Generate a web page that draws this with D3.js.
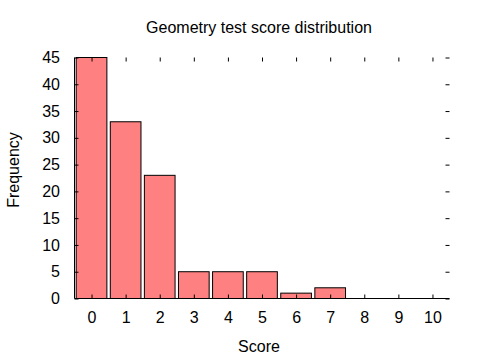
<!DOCTYPE html>
<html><head><meta charset="utf-8">
<script src="https://cdn.jsdelivr.net/npm/d3@7"></script>
<style>body{margin:0;background:#fff}svg{display:block}text{font-family:"Liberation Sans",Arial,sans-serif;fill:#000}</style>
</head><body>
<script>
const scores = [0,1,2,3,4,5,6,7,8,9,10];
const frequencies = [45,33,23,5,5,5,1,2,0,0,0];
const yTicks = [0,5,10,15,20,25,30,35,40,45];
const title = "Geometry test score distribution";
const xLabel = "Score";
const yLabel = "Frequency";

const W=480,H=360;
const L=74.5,R=449.5,T=57.5,B=298.5;
const svg=d3.select("body").append("svg").attr("width",W).attr("height",H);
const x=d3.scaleLinear().domain([-0.5,10.5]).range([L,R]);
const y=d3.scaleLinear().domain([0,45]).range([B,T]);

svg.append("g").selectAll("rect").data(scores).join("rect")
  .attr("x",d=>x(d-0.45)).attr("width",x(0.9)-x(0))
  .attr("y",(d,i)=>y(frequencies[i])).attr("height",(d,i)=>y(0)-y(frequencies[i]))
  .attr("fill","#ff8080").attr("stroke","#000").attr("stroke-width",1);

const tk=4, fs="16px";
const gb=svg.append("g").attr("transform",`translate(0,${B})`)
  .call(d3.axisBottom(x).tickValues(scores).tickSize(-tk).tickPadding(13).tickFormat(d3.format("d")));
const gt=svg.append("g").attr("transform",`translate(0,${T})`)
  .call(d3.axisTop(x).tickValues(scores).tickSize(-tk).tickFormat(""));
const gl=svg.append("g").attr("transform",`translate(${L},0)`)
  .call(d3.axisLeft(y).tickValues(yTicks).tickSize(-tk).tickPadding(14.5));
const gr=svg.append("g").attr("transform",`translate(${R},0)`)
  .call(d3.axisRight(y).tickValues(yTicks).tickSize(-tk).tickFormat(""));
[gb,gt,gl,gr].forEach(g=>{g.attr("font-family",null).attr("font-size",null);g.selectAll("text").style("font-size",fs);g.selectAll("line").attr("stroke","#000");});
gt.select(".domain").remove();gr.select(".domain").remove();
gb.select(".domain").attr("d",`M${L},0H${R}`);
gl.select(".domain").attr("d",`M0,${B}V${T}`);

svg.append("text").attr("x",259).attr("y",33).attr("text-anchor","middle").style("font-size",fs).text(title);
svg.append("text").attr("x",259).attr("y",352).attr("text-anchor","middle").style("font-size",fs).text(xLabel);
svg.append("text").attr("transform","translate(19,170) rotate(-90)").attr("text-anchor","middle").style("font-size",fs).text(yLabel);
</script>
</body></html>
